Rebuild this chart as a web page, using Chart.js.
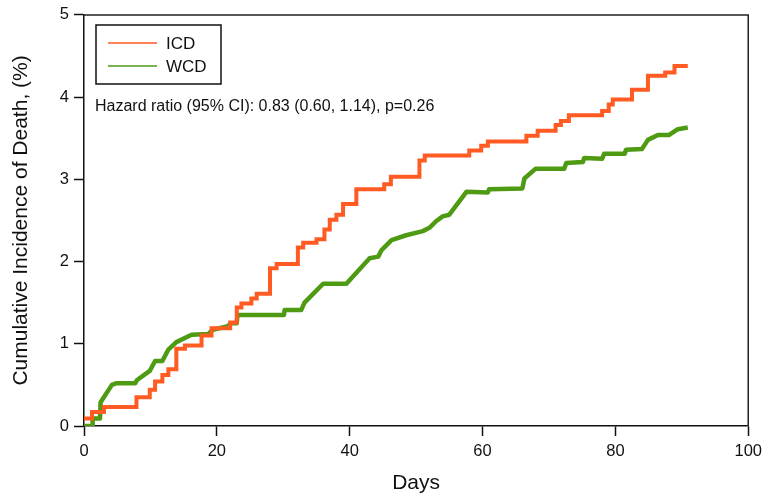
<!DOCTYPE html>
<html>
<head>
<meta charset="utf-8">
<script src="https://cdn.jsdelivr.net/npm/chart.js@4.4.1/dist/chart.umd.min.js"></script>
<style>
html,body{margin:0;padding:0;background:#fff;}
#wrap{width:768px;height:498px;position:relative;}
</style>
</head>
<body>
<div id="wrap"><canvas id="c" width="768" height="498"></canvas></div>
<script>
// ---- data ----
const xTicks = [0, 20, 40, 60, 80, 100];
const yTicks = [0, 1, 2, 3, 4, 5];
const seriesNames = ['ICD', 'WCD'];
const hazardText = 'Hazard ratio (95% CI): 0.83 (0.60, 1.14), p=0.26';

const icdDays = [0, 1.2, 3.0, 7.9, 9.9, 10.7, 11.8, 12.7, 13.9, 15.2, 17.7, 19.2, 22.0, 23.0, 23.7, 25.2, 26.0, 28.0, 29.0, 32.2, 33.0, 35.0, 36.2, 37.0, 38.0, 39.0, 41.0, 45.2, 46.2, 50.5, 51.3, 58.0, 59.8, 60.8, 66.6, 68.3, 71.0, 71.8, 73.0, 78.0, 79.0, 79.6, 82.5, 84.9, 87.5, 88.9, 90.9];
const icdRisk = [0.09, 0.17, 0.23, 0.35, 0.44, 0.54, 0.62, 0.69, 0.94, 0.98, 1.10, 1.19, 1.26, 1.44, 1.49, 1.55, 1.61, 1.92, 1.97, 2.17, 2.23, 2.27, 2.39, 2.51, 2.57, 2.70, 2.88, 2.94, 3.03, 3.23, 3.29, 3.35, 3.41, 3.46, 3.53, 3.59, 3.66, 3.71, 3.78, 3.83, 3.91, 3.97, 4.09, 4.26, 4.30, 4.38, 4.38];

const wcdDays = [0, 1.3, 1.3, 2.4, 2.5, 4.2, 4.9, 7.7, 8.0, 9.9, 10.7, 11.8, 12.7, 13.9, 16.2, 18.7, 19.4, 21.5, 22.2, 23.0, 23.1, 30.1, 30.2, 32.7, 33.2, 36.0, 39.5, 43.0, 44.3, 44.8, 46.3, 48.5, 51.0, 52.0, 53.0, 54.0, 55.0, 57.6, 60.8, 61.0, 66.0, 66.3, 68.0, 72.3, 72.6, 75.1, 75.3, 78.0, 78.3, 81.4, 81.6, 84.0, 84.9, 86.4, 88.1, 89.4, 90.9];
const wcdRisk = [0, 0, 0.09, 0.09, 0.29, 0.50, 0.52, 0.52, 0.56, 0.67, 0.79, 0.79, 0.93, 1.02, 1.11, 1.12, 1.17, 1.21, 1.25, 1.25, 1.35, 1.35, 1.41, 1.41, 1.50, 1.73, 1.73, 2.04, 2.06, 2.14, 2.26, 2.32, 2.37, 2.41, 2.49, 2.55, 2.57, 2.85, 2.84, 2.88, 2.89, 3.01, 3.13, 3.13, 3.20, 3.21, 3.26, 3.25, 3.31, 3.31, 3.36, 3.37, 3.48, 3.54, 3.54, 3.61, 3.63];

const ORANGE = '#FF5B22';
const GREEN = '#4E9A13';
const INK = '#111111';
const FONT = 'Liberation Sans, Arial, Helvetica, sans-serif';

const toPts = (xs, ys) => xs.map((x, i) => ({x: x, y: ys[i]}));

const framePlugin = {
  id: 'frame',
  afterDraw(chart) {
    const {ctx, chartArea: a} = chart;
    ctx.save();
    ctx.strokeStyle = '#222';
    ctx.lineWidth = 1.5;
    ctx.beginPath();
    ctx.moveTo(a.left, a.top);
    ctx.lineTo(a.right, a.top);
    ctx.lineTo(a.right, a.bottom);
    ctx.stroke();

    // legend box
    const bx = 96, by = 25, bw = 125, bh = 59;
    ctx.lineWidth = 1.5;
    ctx.strokeStyle = '#111';
    ctx.strokeRect(bx, by, bw, bh);
    const cols = [ORANGE, GREEN];
    const rows = [43, 66];
    ctx.font = '17px ' + FONT;
    ctx.textBaseline = 'middle';
    ctx.textAlign = 'left';
    chart.data.datasets.forEach((ds, i) => {
      ctx.strokeStyle = cols[i];
      ctx.lineWidth = 1.5;
      ctx.beginPath();
      ctx.moveTo(108, rows[i]);
      ctx.lineTo(157, rows[i]);
      ctx.stroke();
      ctx.fillStyle = INK;
      ctx.fillText(ds.label, 166, rows[i] + 1);
    });

    ctx.font = '16px ' + FONT;
    ctx.textBaseline = 'alphabetic';
    ctx.fillText(hazardText, 95, 111);
    ctx.restore();
  }
};

new Chart(document.getElementById('c'), {
  type: 'line',
  data: {
    datasets: [
      {
        label: seriesNames[0],
        data: toPts(icdDays, icdRisk),
        borderColor: ORANGE,
        borderWidth: 4,
        stepped: 'before',
        pointRadius: 0,
        fill: false,
        borderJoinStyle: 'miter',
        borderCapStyle: 'butt'
      },
      {
        label: seriesNames[1],
        data: toPts(wcdDays, wcdRisk),
        borderColor: GREEN,
        borderWidth: 4.5,
        tension: 0,
        pointRadius: 0,
        fill: false,
        borderJoinStyle: 'round',
        borderCapStyle: 'butt'
      }
    ]
  },
  options: {
    responsive: false,
    animation: false,
    devicePixelRatio: 1,
    layout: { padding: { left: 0, top: 13, right: 19, bottom: 0 } },
    plugins: { legend: { display: false }, tooltip: { enabled: false } },
    scales: {
      x: {
        type: 'linear',
        min: 0, max: 100,
        afterFit(s) { s.height = 72; },
        afterBuildTicks(s) { s.ticks = xTicks.map(v => ({value: v})); },
        grid: { drawOnChartArea: false, drawTicks: true, tickLength: 10, tickColor: INK, tickWidth: 1.5 },
        border: { display: true, color: INK, width: 1.5 },
        ticks: { color: INK, font: { family: FONT, size: 16.5 }, padding: 6, maxRotation: 0 },
        title: { display: true, text: 'Days', color: INK, font: { family: FONT, size: 21 }, padding: { top: 0, bottom: 2 } }
      },
      y: {
        type: 'linear',
        min: 0, max: 5,
        afterFit(s) { s.width = 84; },
        afterBuildTicks(s) { s.ticks = yTicks.map(v => ({value: v})); },
        grid: { drawOnChartArea: false, drawTicks: true, tickLength: 10, tickColor: INK, tickWidth: 1.5 },
        border: { display: true, color: INK, width: 1.5 },
        ticks: { color: INK, font: { family: FONT, size: 16.5 }, padding: 5 },
        title: { display: true, text: 'Cumulative Incidence of Death, (%)', color: INK, font: { family: FONT, size: 21 }, padding: { top: 9, bottom: 4 } }
      }
    }
  },
  plugins: [framePlugin]
});
</script>
</body>
</html>
